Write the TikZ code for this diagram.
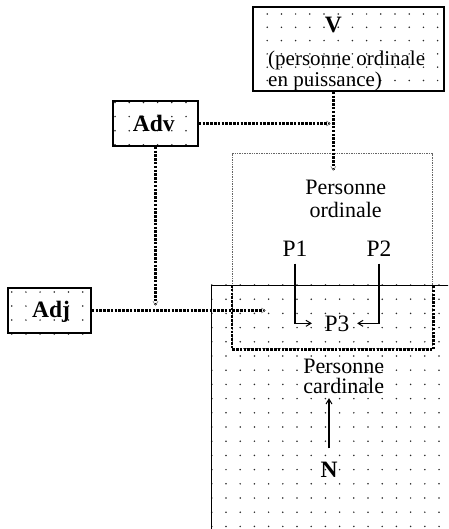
\documentclass[tikz,border=0pt]{standalone}
\usepackage{fontspec}
\setmainfont{Liberation Serif}
\usetikzlibrary{arrows.meta}
\newcommand{\fa}{\fontsize{22}{22}\selectfont}
\newcommand{\fb}{\fontsize{23.5}{23.5}\selectfont}
\newcommand{\fc}{\fontsize{21}{21}\selectfont}
\newcommand{\dotgrid}[6]{%
  \pgfmathsetmacro{\dgxb}{#1+#5}%
  \pgfmathsetmacro{\dgyb}{#2+#6}%
  \foreach \dgx in {#1,\dgxb,...,#3}{\foreach \dgy in {#2,\dgyb,...,#4}{\fill[dotc] (\dgx,\dgy) circle (0.85pt);}}}
\tikzset{
  dotc/.style={fill=black!85},
  box/.style={draw=black, line width=1.6pt, inner sep=0pt},
  cardst/.style={draw=black, line width=1.4pt, inner sep=0pt},
  ordst/.style={draw=black!60, line width=1.4pt, dash pattern=on 1pt off 0.7pt, inner sep=0pt},
  thickdot/.style={draw=black, line width=2.6pt, dash pattern=on 2.5pt off 1.3pt},
  tipg/.style={-{Straight Barb[length=4pt,width=5pt,line width=0.7pt,black!45]}},
  pline/.style={draw=black, line width=1.2pt, -{Straight Barb[length=5pt,width=6pt,line width=1pt]}},
  lbl/.style={inner sep=0pt, anchor=base, font=\fb},
  lbla/.style={inner sep=0pt, anchor=base, font=\fa},
  lbll/.style={inner sep=0pt, anchor=base west, font=\fc},
}
\begin{document}
\begin{tikzpicture}[x=1pt,y=-1pt]
\useasboundingbox (0,0) rectangle (448,529);
\begin{scope}
\clip (0,0) rectangle (448,529);
% cardinal region
\dotgrid{211.8}{285}{448}{529}{14.2}{14.2}
\node[cardst, minimum width=300pt, minimum height=300pt, anchor=north west] (cardbox) at (211,285) {};
% V box
\dotgrid{253}{14}{444}{91}{14.2}{13.3}
\node[box, minimum width=191pt, minimum height=84pt] (vbox) at (348.5,49) {};
% Adv box
\dotgrid{115}{102.5}{198}{146}{14.2}{14.1}
\node[box, minimum width=85pt, minimum height=45pt] (advbox) at (155.5,123.5) {};
% Adj box
\dotgrid{11.7}{292}{91}{334}{14.2}{14}
\node[box, minimum width=83pt, minimum height=45pt] (adjbox) at (49.5,310.5) {};
% ordinal box
\node[ordst, minimum width=200pt, minimum height=195pt, anchor=north west] (ordbox) at (232,153) {};
\draw[thickdot] (ordbox.west |- cardbox.north) -- (ordbox.south west) -- (ordbox.south east) -- (ordbox.east |- cardbox.north);
% texts
\node[lbl, font=\fb\bfseries] (vlab) at (333.3,33) {V};
\node[lbll] (vl1) at (268,66) {(personne ordinale};
\node[lbll] (vl2) at (268,87) {en puissance)};
\node[lbl, font=\fb\bfseries] (advlab) at (153.8,131.7) {Adv};
\node[lbl, font=\fb\bfseries] (adjlab) at (51,317.7) {Adj};
\node[lbla] (ord1) at (345.7,195) {Personne};
\node[lbla] (ord2) at (345.7,217) {ordinale};
\node[lbl] (p1) at (295,256) {P1};
\node[lbl] (p2) at (379,256) {P2};
\node[lbl] (p3) at (337,331) {P3};
\node[lbla] (card1) at (343.7,373) {Personne};
\node[lbla] (card2) at (343.7,393) {cardinale};
\node[lbl, font=\fb\bfseries] (nlab) at (329,477) {N};
% connectors
\coordinate (vend) at (333.3,171);
\coordinate (advend) at (331,123.5);
\coordinate (advdown) at (155.5,306);
\coordinate (adjend) at (266,310.5);
\draw[thickdot, tipg] (vlab |- vbox.south) -- (vend);
\draw[thickdot, tipg] (advbox.east) -- (advend);
\draw[thickdot, tipg] (advbox.south) -- (advdown);
\draw[thickdot, tipg] (adjbox.east) -- (adjend);
\draw[pline, shorten <=7.5pt, shorten >=12.5pt] (p1.south) |- (p3.west);
\draw[pline, shorten <=7.5pt, shorten >=7.5pt] (p2.south) |- (p3.east);
\draw[pline, shorten <=13pt, shorten >=4.7pt] (nlab.north) -- (nlab |- card2.south);
\end{scope}
\end{tikzpicture}
\end{document}
